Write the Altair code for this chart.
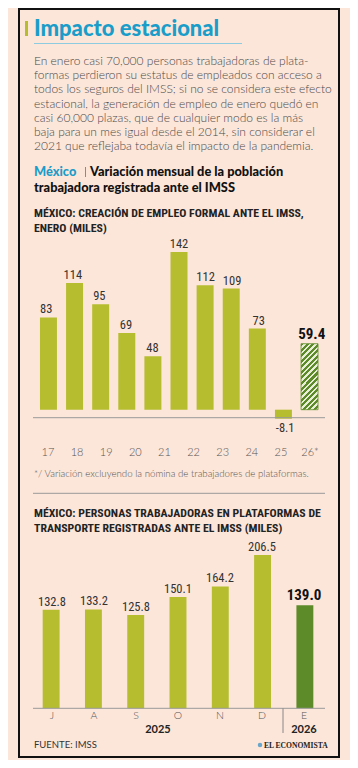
import altair as alt
import pandas as pd

# ---------------- data ----------------
ene_years = ["2016", "2017", "2018", "2019", "2020", "2021", "2022", "2023", "2024", "2025", "2026"]
ene_vals = [83, 114, 95, 69, 48, 142, 112, 109, 73, -8.1, 59.4]
ene_ticks = ["17", "18", "19", "20", "21", "22", "23", "24", "25", "26*"]

meses = ["J", "A", "S", "O", "N", "D", "E"]
plat_vals = [132.8, 133.2, 125.8, 150.1, 164.2, 206.5, 139.0]

parrafo = [
    "En enero casi 70,000 personas trabajadoras de plata-",
    "formas perdieron su estatus de empleados con acceso a",
    "todos los seguros del IMSS; si no se considera este efecto",
    "estacional, la generación de empleo de enero quedó en",
    "casi 60,000 plazas, que de cualquier modo es la más",
    "baja para un mes igual desde el 2014, sin considerar el",
    "2021 que reflejaba todavía el impacto de la pandemia.",
]

# ---------------- style ----------------
BG = "#FCE6D9"
OLIVE = "#B6BD2F"
DKGREEN = "#5E8B2A"
TEAL = "#1B9DC9"
BODY = "Lato, 'Open Sans', sans-serif"
NARROW = "'Roboto Condensed', 'Liberation Sans Narrow', 'DejaVu Sans Condensed', Roboto, sans-serif"
SERIF = "'Liberation Serif', 'DejaVu Serif', serif"

ONE = alt.Data(values=[{}])

df1 = pd.DataFrame({"year": ene_years, "v": ene_vals})
df1["label"] = [f"{v:g}" for v in ene_vals]
df1["last"] = [i == len(ene_vals) - 1 for i in range(len(ene_vals))]
df1["neg"] = [v < 0 for v in ene_vals]

dft = pd.DataFrame({"t": ene_ticks})

df2 = pd.DataFrame({"m": meses, "v": plat_vals})
df2["label"] = [f"{v:.1f}" for v in plat_vals]
df2["last"] = [i == len(plat_vals) - 1 for i in range(len(plat_vals))]

X1 = alt.Scale(domain=ene_years, range=[25, 317], paddingInner=0.35, paddingOuter=0.267)
Y1 = alt.Scale(domain=[-10, 150], range=[420.8 - 8, 243.05 - 8], nice=False, zero=False)
XT = alt.Scale(type="point", domain=ene_ticks, range=[25, 317], padding=0.515)
X2 = alt.Scale(domain=meses, range=[23, 317], paddingInner=0.6, paddingOuter=0.276)
Y2 = alt.Scale(domain=[0, 210], range=[700.3, 700.3 - 210 * 0.742], nice=False, zero=False)


def txt(text, x, y, size, color="#333", weight="normal", font=BODY, align="left",
        baseline="alphabetic", lineHeight=None):
    kw = dict(text=text, fontSize=size, color=color, fontWeight=weight, font=font,
              align=align, baseline=baseline)
    if lineHeight is not None:
        kw["lineHeight"] = lineHeight
    return alt.Chart(ONE).mark_text(**kw).encode(x=alt.value(x), y=alt.value(y))


def hrule(x1, x2, y, color="#999", w=1):
    return alt.Chart(ONE).mark_rule(color=color, strokeWidth=w).encode(
        x=alt.value(x1), x2=alt.value(x2), y=alt.value(y))


def vrule(x, y1, y2, color="#888", w=1):
    return alt.Chart(ONE).mark_rule(color=color, strokeWidth=w).encode(
        x=alt.value(x), y=alt.value(y1), y2=alt.value(y2))


def rect(x1, x2, y1, y2, **kw):
    return alt.Chart(ONE).mark_rect(**kw).encode(
        x=alt.value(x1), x2=alt.value(x2), y=alt.value(y1), y2=alt.value(y2))


# hatch via hard-stop linear gradient
n = 15
stops = []
for k in range(n):
    a = k / n
    b = (k + 0.55) / n
    c = (k + 1) / n
    stops += [alt.GradientStop(color=DKGREEN, offset=a), alt.GradientStop(color=DKGREEN, offset=b),
              alt.GradientStop(color="#E9EFD6", offset=b), alt.GradientStop(color="#E9EFD6", offset=c)]
hatch = alt.LinearGradient(gradient="linear", stops=stops, x1=0, y1=0, x2=0.304, y2=1.179)

layers = []

# frame
layers.append(rect(11, 331, 1, 749, fillOpacity=0, stroke="#111", strokeWidth=2))
# heading
layers.append(rect(17, 20, 13, 28, color=OLIVE))
layers.append(txt("Impacto estacional", 26, 28, 22, TEAL, 900))
layers.append(hrule(26, 234, 35.5, "#8CCBE0", 1))
layers.append(txt(parrafo, 26, 57, 12, "#4a4a4a", 300, lineHeight=14.2))
layers.append(txt("México", 26, 168, 12.8, TEAL, 900))
layers.append(vrule(77.5, 159, 169, "#8a8a8a", 1))
layers.append(txt("Variación mensual de la población", 82, 168, 12.8, "#111", 900))
layers.append(txt("trabajadora registrada ante el IMSS", 26, 183.5, 12.8, "#111", 900))

# chart 1
layers.append(txt(["MÉXICO: CREACIÓN DE EMPLEO FORMAL ANTE EL IMSS,", "ENERO (MILES)"],
                  26, 209, 11.8, "#222", "bold", NARROW, lineHeight=15))
base1 = alt.Chart(df1)
layers.append(base1.transform_filter("!datum.last").mark_bar(color=OLIVE).encode(
    x=alt.X("year:N", scale=X1, axis=None),
    y=alt.Y("v:Q", scale=Y1, axis=None),
    y2=alt.datum(0)))
layers.append(base1.transform_filter("datum.last").mark_bar(color=hatch, stroke=DKGREEN, strokeWidth=0.8).encode(
    x=alt.X("year:N", scale=X1, axis=None),
    y=alt.Y("v:Q", scale=Y1, axis=None),
    y2=alt.datum(0)))
layers.append(hrule(25, 317, 409.7, "#999", 1))
layers.append(base1.transform_filter("!datum.last && !datum.neg").mark_text(
    font=NARROW, fontSize=12.5, color="#333", baseline="alphabetic", dy=-4).encode(
    x=alt.X("year:N", scale=X1, axis=None),
    y=alt.Y("v:Q", scale=Y1, axis=None),
    text="label:N"))
layers.append(base1.transform_filter("datum.neg").mark_text(
    font=NARROW, fontSize=12.5, color="#333", baseline="alphabetic", dy=13).encode(
    x=alt.X("year:N", scale=X1, axis=None),
    y=alt.Y("v:Q", scale=Y1, axis=None),
    text="label:N"))
layers.append(base1.transform_filter("datum.last").mark_text(
    font=NARROW, fontSize=15, fontWeight="bold", color="#111", baseline="alphabetic", dy=-4.5).encode(
    x=alt.X("year:N", scale=X1, axis=None),
    y=alt.Y("v:Q", scale=Y1, axis=None),
    text="label:N"))
layers.append(alt.Chart(dft).mark_text(font=BODY, fontSize=11, fontWeight=300, color="#555",
                                       baseline="alphabetic").encode(
    x=alt.X("t:N", scale=XT, axis=None),
    y=alt.value(447.5),
    text="t:N"))
layers.append(txt("*/ Variación excluyendo la nómina de trabajadores de plataformas.",
                  26, 469.3, 9.7, "#555", 300))
layers.append(hrule(25, 317, 485.3, "#999", 1))

# chart 2
layers.append(txt(["MÉXICO: PERSONAS TRABAJADORAS EN PLATAFORMAS DE",
                   "TRANSPORTE REGISTRADAS ANTE EL IMSS (MILES)"],
                  26, 509, 11.8, "#222", "bold", NARROW, lineHeight=14.7))
base2 = alt.Chart(df2)
layers.append(base2.mark_bar().encode(
    x=alt.X("m:N", scale=X2, axis=None),
    y=alt.Y("v:Q", scale=Y2, axis=None),
    y2=alt.datum(0),
    color=alt.condition("datum.last", alt.value(DKGREEN), alt.value(OLIVE))))
layers.append(hrule(25, 317, 700.3, "#999", 1))
layers.append(base2.transform_filter("!datum.last").mark_text(
    font=NARROW, fontSize=12.5, color="#333", baseline="alphabetic", dy=-4).encode(
    x=alt.X("m:N", scale=X2, axis=None),
    y=alt.Y("v:Q", scale=Y2, axis=None),
    text="label:N"))
layers.append(base2.transform_filter("datum.last").mark_text(
    font=NARROW, fontSize=15, fontWeight="bold", color="#111", baseline="alphabetic", dy=-5).encode(
    x=alt.X("m:N", scale=X2, axis=None),
    y=alt.Y("v:Q", scale=Y2, axis=None),
    text="label:N"))
layers.append(base2.mark_text(font=BODY, fontSize=10.5, fontWeight=300, color="#555",
                              baseline="alphabetic").encode(
    x=alt.X("m:N", scale=X2, axis=None),
    y=alt.value(711.3),
    text="m:N"))
layers.append(vrule(275, 700.3, 725, "#888", 1))
layers.append(txt("2025", 150, 725, 11, "#222", "bold", BODY, align="center"))
layers.append(txt("2026", 296, 725, 11, "#222", "bold", BODY, align="center"))

# footer
layers.append(txt("FUENTE: IMSS", 26, 739.7, 9.5, "#333", "normal"))
layers.append(alt.Chart(ONE).mark_circle(color="#6AA6C9", opacity=1, size=20).encode(
    x=alt.value(252), y=alt.value(737)))
layers.append(txt("EL ECONOMISTA", 319.7, 740, 7.6, "#222", "bold", SERIF, align="right"))

chart = alt.layer(*layers).resolve_scale(x="independent", y="independent").properties(
    width=342, height=752,
    autosize=alt.AutoSizeParams(type="none"),
    padding=0,
    background=BG,
).configure_view(stroke="transparent")

chart.save("out.html", embed_options={"renderer": "svg", "actions": False})
